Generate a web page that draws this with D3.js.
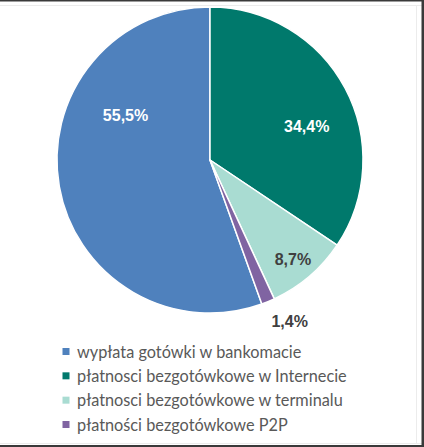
<!DOCTYPE html>
<html><head><meta charset="utf-8">
<script src="https://cdn.jsdelivr.net/npm/d3@7"></script>
<style>html,body{margin:0;padding:0;background:#fff;overflow:hidden}</style>
</head><body>
<svg id="c" width="424" height="447"></svg>
<script>
const categories = ["wypłata gotówki w bankomacie","płatnosci bezgotówkowe w Internecie","płatnosci bezgotówkowe w terminalu","płatności bezgotówkowe P2P"];
const values = [55.5, 34.4, 8.7, 1.4];
const labels = ["55,5%","34,4%","8,7%","1,4%"];
const colors = ["#4F81BD","#00796C","#A9DCD2","#8064A2"];
const labelColors = ["#ffffff","#ffffff","#404040","#404040"];

const svg = d3.select("#c");
svg.append("rect").attr("width",424).attr("height",447).attr("fill","#fff");
// frame
svg.append("line").attr("x1",0).attr("x2",424).attr("y1",5.5).attr("y2",5.5).attr("stroke","#ececec");
svg.append("line").attr("x1",416.5).attr("x2",416.5).attr("y1",5).attr("y2",443).attr("stroke","#ececec");
svg.append("line").attr("x1",0).attr("x2",424).attr("y1",443.5).attr("y2",443.5).attr("stroke","#ececec");
svg.append("rect").attr("x",0).attr("y",0).attr("width",424).attr("height",1.5).attr("fill","#3a3a3a");
svg.append("rect").attr("x",421.5).attr("y",0).attr("width",2.5).attr("height",447).attr("fill","#3a3a3a");
svg.append("rect").attr("x",0).attr("y",445).attr("width",424).attr("height",2).attr("fill","#3a3a3a");

const cx = 210, cy = 160, r = 153;
const total = d3.sum(values);
const startOffset = -values[0] / total * 2 * Math.PI;
const pie = d3.pie().sort(null).value(d => d)
  .startAngle(startOffset).endAngle(startOffset + 2 * Math.PI);
const arcs = pie(values);
const arc = d3.arc().innerRadius(0).outerRadius(r);
const g = svg.append("g").attr("transform", `translate(${cx},${cy})`);
g.selectAll("path").data(arcs).join("path")
  .attr("d", arc).attr("fill", (d,i) => colors[i])
  .attr("stroke", "#fff").attr("stroke-width", 1.5).attr("stroke-linejoin","round");

// label placement: radius fraction and angular shift (deg) from slice mid-angle
const labelR = [0.626, 0.669, 0.843, 1.174];
const labelShift = [38, 9, 0.5, -4];
arcs.forEach((d,i) => {
  const a = (d.startAngle + d.endAngle) / 2 + labelShift[i] * Math.PI / 180;
  const rr = r * labelR[i];
  const x = Math.sin(a) * rr, y = -Math.cos(a) * rr;
  g.append("text").attr("x", x).attr("y", y).attr("dy","0.36em")
    .attr("text-anchor","middle")
    .attr("font-family","Liberation Sans, Arial, sans-serif")
    .attr("font-weight","bold").attr("font-size",16)
    .attr("fill", labelColors[i]).text(labels[i]);
});

// legend
const legY = d3.scalePoint().domain(categories).range([352, 425]);
const lg = svg.append("g");
categories.forEach((c,i) => {
  const y = legY(c);
  lg.append("rect").attr("x",62.5).attr("y",y-4).attr("width",7).attr("height",7).attr("fill",colors[i]);
  lg.append("text").attr("x",77).attr("y",y).attr("dy","0.35em")
    .attr("font-family","Lato, sans-serif").attr("font-size",16.3)
    .attr("fill","#595959").text(c);
});
</script>
</body></html>
